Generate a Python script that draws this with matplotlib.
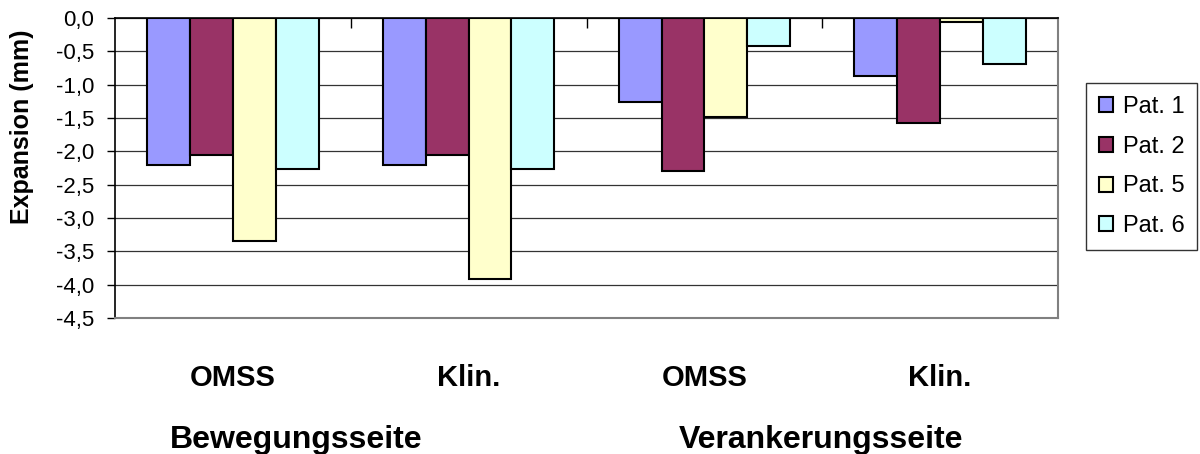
import matplotlib
matplotlib.use("Agg")
import matplotlib.pyplot as plt
import numpy as np

plt.rcParams['font.family'] = ['Liberation Sans', 'DejaVu Sans']

categories = ['OMSS', 'Klin.', 'OMSS', 'Klin.']
sides = ['Bewegungsseite', 'Verankerungsseite']
patients = ['Pat. 1', 'Pat. 2', 'Pat. 5', 'Pat. 6']
pat1 = [-2.20, -2.20, -1.26, -0.87]
pat2 = [-2.05, -2.05, -2.29, -1.57]
pat5 = [-3.34, -3.92, -1.48, -0.06]
pat6 = [-2.26, -2.26, -0.42, -0.69]
colors = ['#9999FF', '#993366', '#FFFFCC', '#CCFFFF']

fig = plt.figure(figsize=(12, 4.54), dpi=100)
ax = fig.add_axes([115 / 1200, 1 - 318 / 454, 943 / 1200, 300 / 454])

x = np.arange(len(categories))
w = 1 / 5.5
for i, (vals, name) in enumerate(zip([pat1, pat2, pat5, pat6], patients)):
    ax.bar(x + (i - 1.5) * w, vals, w, color=colors[i], edgecolor='black',
           linewidth=1.5, label=name, zorder=3)

ax.set_xlim(-0.5, 3.5)
ax.set_ylim(-4.5, 0)
yt = np.arange(-4.5, 0.01, 0.5)
ax.set_yticks(yt)
ax.set_yticklabels([f'{v:.1f}'.replace('.', ',') for v in yt])
ax.yaxis.grid(True, color='#333333', linewidth=0.9, zorder=0)
ax.tick_params(axis='y', direction='out', length=6, width=1, pad=9, labelsize=16)

ax.set_xticks(x)
ax.set_xticklabels(categories, fontsize=21, fontweight='bold')
ax.tick_params(axis='x', which='major', length=0, pad=33)
ax.set_xticks([0.5, 1.5, 2.5], minor=True)
ax.tick_params(axis='x', which='minor', top=True, bottom=False, direction='in',
               length=7, width=1)

for s in ['top', 'left']:
    ax.spines[s].set_color('black')
    ax.spines[s].set_linewidth(1.2)
for s in ['bottom', 'right']:
    ax.spines[s].set_color('#808080')
    ax.spines[s].set_linewidth(1.5)

fig.text(22 / 1200, 1 - 127 / 454, 'Expansion (mm)', rotation=90, fontsize=18,
         fontweight='bold', ha='center', va='center')
fig.text(296 / 1200, 1 - 448 / 454, sides[0], fontsize=23, fontweight='bold',
         ha='center', va='baseline')
fig.text(821 / 1200, 1 - 448 / 454, sides[1], fontsize=23, fontweight='bold',
         ha='center', va='baseline')

leg = fig.legend(loc='upper left', bbox_to_anchor=(1086 / 1200, 1 - 83 / 454),
                 fontsize=17, frameon=True, fancybox=False, edgecolor='black',
                 handlelength=0.6, handleheight=0.6, handletextpad=0.4,
                 labelspacing=0.75, borderpad=0.55, borderaxespad=0)
leg.get_frame().set_linewidth(1)

fig.savefig('out.png', dpi=100)
